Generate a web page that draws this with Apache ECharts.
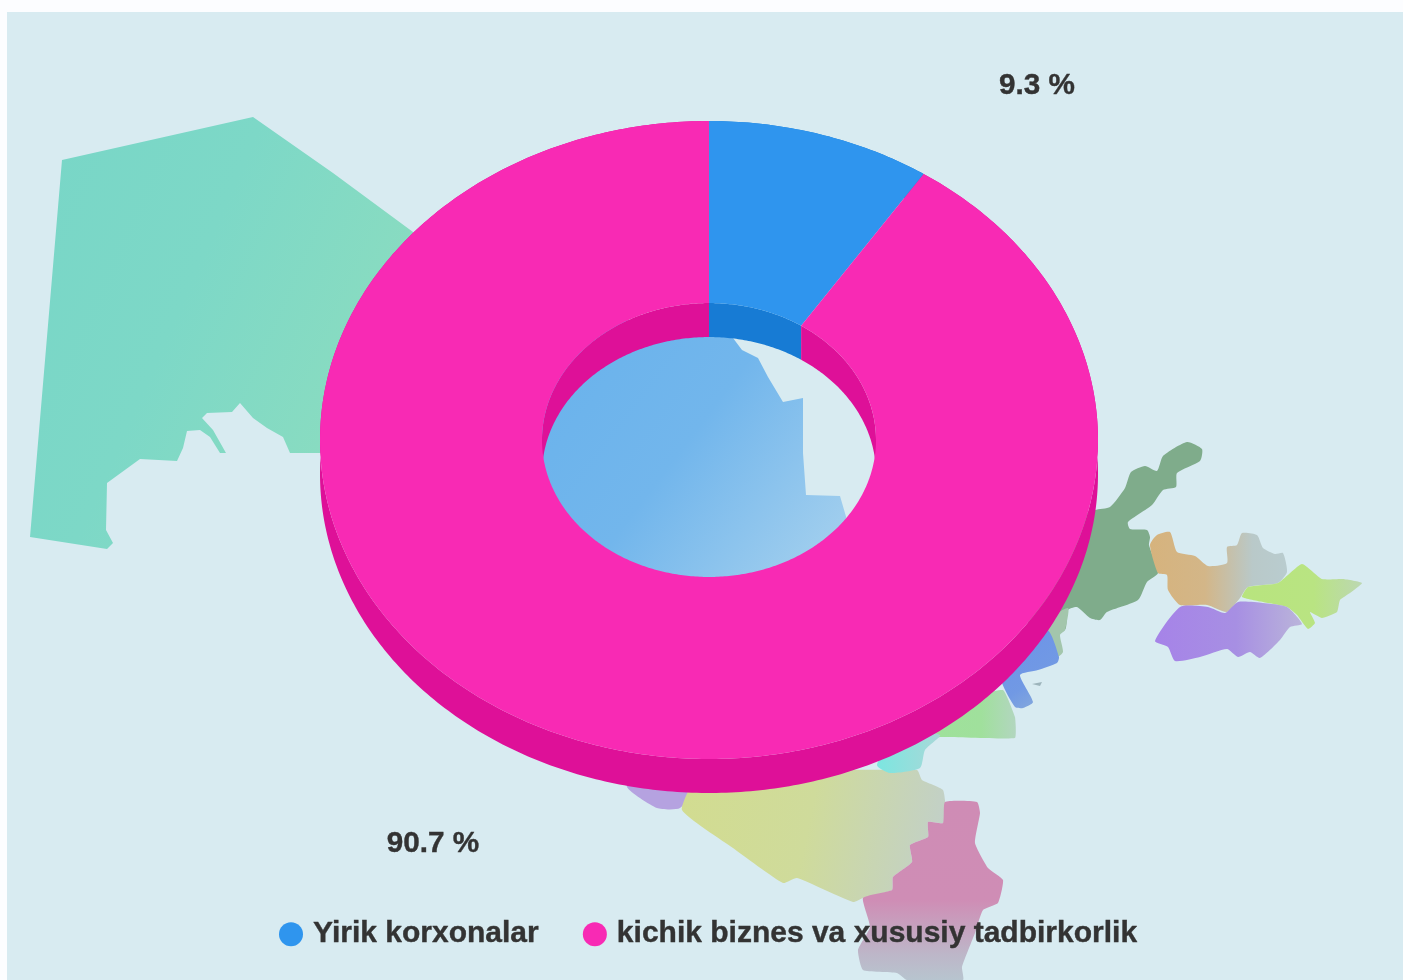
<!DOCTYPE html>
<html>
<head>
<meta charset="utf-8">
<title>Korxonalar ulushi</title>
<style>
  html, body { margin: 0; padding: 0; background: #fcfdff; }
  #chart { width: 1403px; height: 980px; }
</style>
<script src="https://cdn.jsdelivr.net/npm/echarts@6/dist/echarts.min.js"></script>
</head>
<body>
<div id="chart"></div>
<script>
// chart values
const categories = ['Yirik korxonalar', 'kichik biznes va xususiy tadbirkorlik'];
const shares = [9.3, 90.7];

const topColors = ['#2f95ee', '#f82ab4'];
const wallColors = ['#177bd4', '#de1098'];
const labelSpots = [[1037, 86], [433, 844]];

// backdrop map, page pixels
const karakalpak = [[62,160],[253,117],[333,173],[413,232],[420,453],[320,453],[290,453],[283,437],[267,428],[253,418],[240,403],[232,412],[207,413],[202,418],[213,430],[226,453],[220,453],[210,437],[200,430],[187,431],[183,448],[177,461],[140,459],[107,483],[106,530],[113,543],[107,549],[30,537]];
const middle = [[733,338],[742,350],[758,358],[768,377],[783,402],[803,398],[803,453],[806,495],[840,496],[847,520],[800,610],[709,620],[530,600],[530,320],[709,320]];
const darkGreen = [[1050,530],[1095,510],[1110,507],[1125,488],[1131,472],[1145,466],[1157,471],[1163,456],[1187,442],[1202,449],[1200,461],[1177,473],[1176,487],[1163,490],[1152,505],[1128,522],[1130,529],[1147,530],[1150,537],[1149,545],[1158,573],[1147,582],[1138,600],[1107,612],[1100,620],[1090,618],[1077,607],[1068,610],[1065,630],[1040,640],[1020,600]];
const greyGreen = [[1040,625],[1068,608],[1065,630],[1060,635],[1063,652],[1057,657],[1045,635]];
const blueRegion = [[1000,660],[1047,630],[1059,657],[1057,663],[1038,670],[1020,675],[1033,702],[1023,708],[1015,707],[1002,683]];
const islet = [[1032,684],[1042,682],[1040,686]];
const orangeGrey = [[1150,545],[1157,535],[1170,532],[1177,552],[1195,556],[1208,566],[1227,563],[1227,547],[1237,545],[1242,533],[1257,535],[1263,548],[1275,554],[1283,553],[1287,572],[1278,583],[1248,587],[1240,598],[1227,612],[1207,605],[1180,605],[1168,590],[1167,575],[1158,573]];
const limeRegion = [[1242,597],[1248,587],[1278,583],[1302,564],[1322,579],[1343,579],[1362,583],[1350,593],[1340,600],[1337,612],[1322,618],[1310,612],[1315,623],[1308,629],[1297,615],[1287,607],[1263,602]];
const purpleRegion = [[1180,607],[1208,607],[1225,613],[1238,602],[1263,603],[1287,607],[1302,624],[1290,627],[1280,640],[1260,658],[1250,652],[1238,657],[1227,649],[1200,657],[1175,661],[1168,647],[1155,641]];
const lightGreen = [[960,700],[1003,690],[1015,717],[1015,738],[940,737],[900,745]];
const cyanRegion = [[900,730],[940,735],[925,750],[920,768],[890,773],[877,765]];
const lilacRegion = [[627,787],[657,808],[680,808],[700,780],[640,770]];
const yellowRegion = [[682,810],[733,848],[783,883],[797,878],[853,902],[863,898],[892,890],[893,877],[912,862],[910,845],[928,837],[928,822],[943,823],[946,815],[943,790],[922,780],[917,770],[700,775]];
const pinkRegion = [[945,802],[977,802],[980,813],[975,843],[988,868],[1003,880],[998,903],[983,910],[975,933],[962,967],[963,980],[907,980],[897,973],[863,970],[858,950],[870,927],[863,898],[892,890],[893,877],[912,862],[910,845],[928,837],[928,822],[943,823]];

const fade = (x2, y2, stops) => new echarts.graphic.LinearGradient(0, 0, x2, y2,
  stops.map(s => ({ offset: s[0], color: s[1] })));

const mapPieces = [
  [karakalpak, fade(1, 0.4, [[0, '#78d6c7'], [0.5, '#7dd8c7'], [1, '#8adcc0']]), 0],
  [middle, fade(1, 0.8, [[0, '#68b2ec'], [0.5, '#72b6ec'], [1, '#a6d1ee']]), 0],
  [darkGreen, '#7fac8b', 0.2],
  [greyGreen, '#a3c6ac', 0.2],
  [blueRegion, fade(1, 1, [[0, '#6b92ea'], [0.6, '#7199e4'], [1, '#8fb1d8']]), 0.2],
  [islet, '#9db4bb', 0],
  [orangeGrey, fade(1, 0, [[0, '#d6b37d'], [0.4, '#d3b688'], [0.75, '#b9c9c9'], [1, '#b9cccf']]), 0.2],
  [limeRegion, fade(1, 0, [[0, '#b8e47e'], [0.6, '#b9e482'], [1, '#bcd7b2']]), 0.15],
  [purpleRegion, fade(1, 0, [[0, '#a683e8'], [0.55, '#a78fe3'], [1, '#bab4da']]), 0.2],
  [lightGreen, fade(1, 0, [[0, '#9de29a'], [0.7, '#a0e09c'], [1, '#b2d6bf']]), 0.1],
  [lilacRegion, '#b5a2e0', 0.2],
  [yellowRegion, fade(1, 0.4, [[0, '#d2dc90'], [0.5, '#cfdb9b'], [1, '#c2d0c8']]), 0.15],
  [cyanRegion, fade(1, 0, [[0, '#7ce6e0'], [1, '#a8d8d8']]), 0.2],
  [pinkRegion, fade(0, 1, [[0, '#cf8cb5'], [0.55, '#cf8db5'], [0.85, '#bdb6c8'], [1, '#b7c5cf']]), 0.15]
];

const backdrop = [{
  type: 'rect',
  z: -20,
  silent: true,
  shape: { x: 7, y: 12, width: 1396, height: 968 },
  style: { fill: '#d8ebf1' }
}].concat(mapPieces.map(piece => ({
  type: 'polygon',
  z: -10,
  silent: true,
  shape: { points: piece[0], smooth: piece[2] },
  style: { fill: piece[1] }
})));

const TILT = 319 / 389;
const DEPTH = 34;
const HOLE = 167 / 389;
const STEP = 0.2;

const sweep = (from, to) => {
  const list = [];
  for (let a = from; a < to; a += STEP) list.push(a);
  list.push(to);
  return list;
};

// the polar scale places each angle, then the circle is flattened
const renderSlice = (index) => (params, api) => {
  const start = api.value(0);
  const end = api.value(1);
  const cy = api.coord([0, 0])[1];
  const spot = (r, a, drop) => {
    const p = api.coord([r, a]);
    return [p[0], cy + (p[1] - cy) * TILT + drop];
  };
  const wall = (r, from, to, fill) => ({
    type: 'polygon',
    shape: {
      points: sweep(from, to).map(a => spot(r, a, 0))
        .concat(sweep(from, to).reverse().map(a => spot(r, a, DEPTH)))
    },
    style: { fill }
  });

  const children = [wall(1, start, end, wallColors[index])];
  // far half of the hole only: 75..100 and 0..25 on the angle scale
  [[0, 25], [75, 100]].forEach(range => {
    const from = Math.max(start, range[0]);
    const to = Math.min(end, range[1]);
    if (from < to) children.push(wall(HOLE, from, to, wallColors[index]));
  });
  children.push({
    type: 'polygon',
    shape: {
      points: sweep(start, end).map(a => spot(1, a, 0))
        .concat(sweep(start, end).reverse().map(a => spot(HOLE, a, 0)))
    },
    style: { fill: topColors[index] }
  });
  children.push({
    type: 'text',
    x: labelSpots[index][0],
    y: labelSpots[index][1],
    style: {
      text: shares[index] + ' %',
      fill: '#333333',
      stroke: '#333333',
      lineWidth: 0.4,
      font: 'bold 29.7px "Liberation Sans", Arial, sans-serif',
      textAlign: 'center',
      textVerticalAlign: 'middle'
    }
  });
  return { type: 'group', children };
};

let running = 0;
const series = categories.map((name, i) => {
  const from = running;
  running += shares[i];
  return {
    type: 'custom',
    name,
    coordinateSystem: 'polar',
    silent: true,
    animation: false,
    itemStyle: { color: topColors[i] },
    renderItem: renderSlice(i),
    data: [[from, running]]
  };
});

const myChart = echarts.init(document.getElementById('chart'), null, { renderer: 'canvas' });

myChart.setOption({
  animation: false,
  backgroundColor: '#fcfdff',
  color: topColors,
  polar: { center: [709, 440], radius: 389 },
  angleAxis: { show: false, min: 0, max: 100, startAngle: 90 },
  radiusAxis: { show: false, min: 0, max: 1 },
  legend: {
    data: categories,
    left: 274,
    top: 914,
    icon: 'circle',
    itemWidth: 24,
    itemHeight: 24,
    itemGap: 44,
    selectedMode: false,
    textStyle: {
      color: '#333333',
      fontFamily: '"Liberation Sans", Arial, sans-serif',
      fontWeight: 'bold',
      fontSize: 30,
      textBorderColor: '#333333',
      textBorderWidth: 0.4,
      padding: [0, 0, 0, 5]
    }
  },
  graphic: backdrop,
  series
});
</script>
</body>
</html>
